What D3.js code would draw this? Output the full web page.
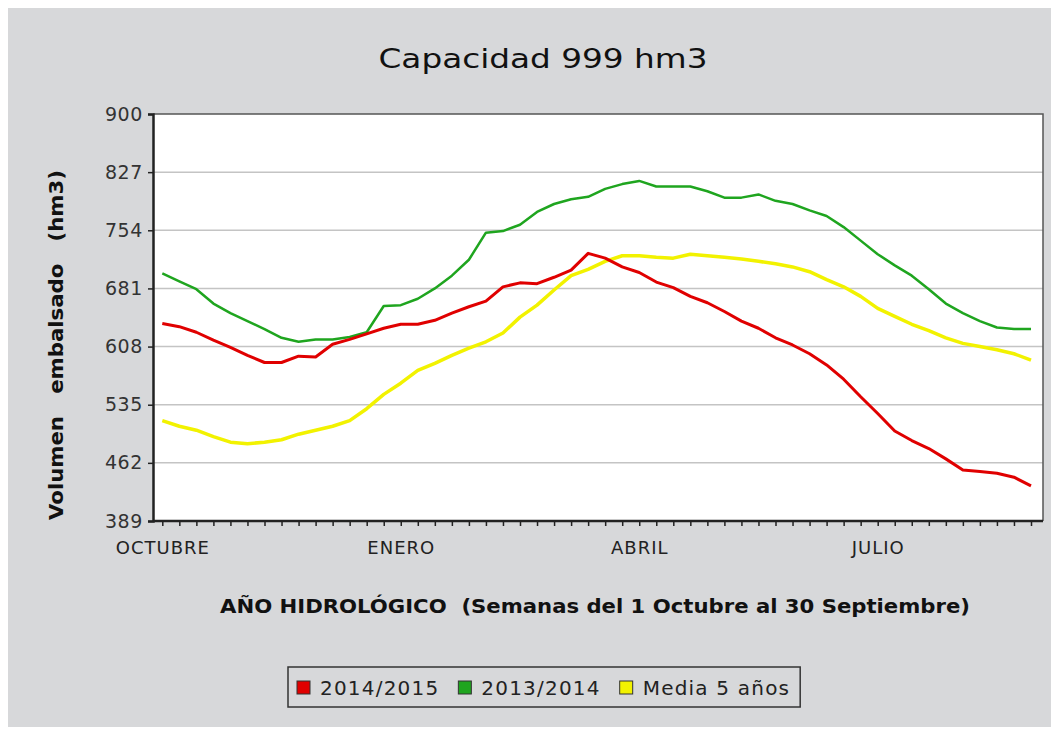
<!DOCTYPE html>
<html>
<head>
<meta charset="utf-8">
<script src="https://cdn.jsdelivr.net/npm/d3@7"></script>
<style>
	body { margin: 0; background: #ffffff; }
	svg { display: block; font-family: "DejaVu Sans", sans-serif; }
</style>
</head>
<body>
<div id="chart"></div>
<script>
// Semanas del año hidrológico (1 oct - 30 sep)
var weeks = d3.range(52);
var monthWeeks = [0, 14, 28, 42];
var monthNames = ["OCTUBRE", "ENERO", "ABRIL", "JULIO"];
var yTicks = [389, 462, 535, 608, 681, 754, 827, 900];

var seriesNames = ["2014/2015", "2013/2014", "Media 5 años"];
var seriesColors = ["#e00000", "#1fa51f", "#f2f200"];

var vol2014 = [637, 633, 626, 616, 607, 597, 588, 588, 596, 595, 611, 617, 624, 631, 636, 636, 641, 650, 658, 665, 683, 688, 687, 695, 704, 725,
	719, 708, 701, 689, 682, 671, 663, 652, 640, 631, 619, 610, 599, 585, 567, 545, 524, 502, 490, 480, 467, 453, 451, 449, 444, 433];
var vol2013 = [700, 690, 680, 662, 650, 640, 630, 619, 614, 617, 617, 620, 626, 659, 660, 668, 681, 697, 717, 751, 753, 761, 777, 787, 793, 796,
	806, 812, 816, 809, 809, 809, 803, 795, 795, 799, 791, 787, 779, 772, 758, 741, 724, 710, 697, 680, 662, 650, 640, 632, 630, 630];
var media5 = [515, 508, 503, 495, 488, 486, 488, 491, 498, 503, 508, 515, 530, 548, 562, 578, 587, 597, 606, 614, 625, 645, 660, 679, 697, 705,
	715, 722, 722, 720, 719, 724, 722, 720, 718, 715, 712, 708, 702, 692, 683, 671, 656, 646, 636, 628, 619, 612, 608, 604, 599, 591];

var W = 1059, H = 735;
var pL = 153, pR = 1043, pT = 114, pB = 521;
var bg = "#d7d8da";

var svg = d3.select("#chart").append("svg")
	.attr("width", W)
	.attr("height", H);

svg.append("rect")
	.attr("x", 8).attr("y", 8)
	.attr("width", W - 16).attr("height", H - 16)
	.attr("fill", bg);

svg.append("text")
	.attr("x", 543).attr("y", 68)
	.attr("text-anchor", "middle")
	.attr("font-size", 27)
	.attr("textLength", 329)
	.attr("lengthAdjust", "spacingAndGlyphs")
	.attr("fill", "#111")
	.text("Capacidad 999 hm3");

svg.append("rect")
	.attr("x", pL).attr("y", pT)
	.attr("width", pR - pL).attr("height", pB - pT)
	.attr("fill", "#ffffff");

var x = d3.scalePoint()
	.domain(weeks)
	.range([162.3, 1031]);

var y = d3.scaleLinear()
	.domain([389, 900])
	.range([pB, pT]);

// grid
svg.append("g")
	.selectAll("line")
	.data(yTicks.slice(1, yTicks.length - 1))
	.enter()
	.append("line")
	.attr("x1", pL).attr("x2", pR)
	.attr("y1", function(d) { return y(d); })
	.attr("y2", function(d) { return y(d); })
	.attr("stroke", "#c4c4c4")
	.attr("stroke-width", 1.5);

// frame top / right
svg.append("path")
	.attr("d", "M" + pL + "," + pT + "H" + pR + "V" + pB)
	.attr("fill", "none")
	.attr("stroke", "#555")
	.attr("stroke-width", 1.5);

var yAxis = svg.append("g")
	.attr("transform", "translate(" + pL + ",0)")
	.call(d3.axisLeft(y).tickValues(yTicks).tickSize(5).tickPadding(5));

yAxis.select(".domain").attr("stroke", "#222").attr("stroke-width", 2.5);
yAxis.selectAll(".tick line").attr("stroke", "#222").attr("stroke-width", 1.5);
yAxis.selectAll(".tick text")
	.attr("font-size", 19)
	.attr("font-family", "DejaVu Sans")
	.attr("letter-spacing", 0.6)
	.attr("fill", "#333");

var xAxis = svg.append("g")
	.attr("transform", "translate(0," + pB + ")")
	.call(d3.axisBottom(x).tickSize(5).tickFormat(function(d) {
		var k = monthWeeks.indexOf(d);
		return k >= 0 ? monthNames[k] : "";
	}).tickPadding(15));

xAxis.select(".domain")
	.attr("d", "M" + pL + ",0H" + pR)
	.attr("stroke", "#222").attr("stroke-width", 2.5);
xAxis.selectAll(".tick line").attr("stroke", "#222").attr("stroke-width", 1.5);
xAxis.selectAll(".tick text")
	.attr("font-size", 18)
	.attr("font-family", "DejaVu Sans")
	.attr("letter-spacing", 1)
	.attr("fill", "#222");

// series
var allSeries = [media5, vol2013, vol2014];
var allColors = [seriesColors[2], seriesColors[1], seriesColors[0]];
var widths = [3.5, 2.5, 3];

var line = d3.line()
	.x(function(d, i) { return x(weeks[i]); })
	.y(function(d) { return y(d); });

svg.append("g")
	.selectAll("path")
	.data(allSeries)
	.enter()
	.append("path")
	.attr("d", line)
	.attr("fill", "none")
	.attr("stroke", function(d, i) { return allColors[i]; })
	.attr("stroke-width", function(d, i) { return widths[i]; })
	.attr("stroke-linejoin", "round");

// axis titles
svg.append("text")
	.attr("x", 595).attr("y", 613)
	.attr("text-anchor", "middle")
	.attr("font-size", 19)
	.attr("font-weight", "bold")
	.attr("textLength", 750)
	.attr("lengthAdjust", "spacingAndGlyphs")
	.attr("fill", "#111")
	.attr("xml:space", "preserve")
	.text("AÑO HIDROLÓGICO  (Semanas del 1 Octubre al 30 Septiembre)");

svg.append("text")
	.attr("transform", "translate(63,345) rotate(-90)")
	.attr("text-anchor", "middle")
	.attr("font-size", 19)
	.attr("font-weight", "bold")
	.attr("textLength", 350)
	.attr("lengthAdjust", "spacingAndGlyphs")
	.attr("fill", "#111")
	.attr("xml:space", "preserve")
	.text("Volumen   embalsado   (hm3)");

// legend
var legend = svg.append("g");
var lx = 297;
var items = legend.selectAll("g")
	.data(seriesNames)
	.enter()
	.append("g");

items.append("rect")
	.attr("width", 13).attr("height", 13)
	.attr("y", 681)
	.attr("fill", function(d, i) { return seriesColors[i]; })
	.attr("stroke", "#333")
	.attr("stroke-width", 1);

items.append("text")
	.attr("y", 695)
	.attr("font-size", 20)
	.attr("letter-spacing", 1.2)
	.attr("fill", "#222")
	.text(function(d) { return d; });

items.each(function() {
	var g = d3.select(this);
	g.select("rect").attr("x", lx);
	g.select("text").attr("x", lx + 23);
	lx += 23 + g.select("text").node().getComputedTextLength() + 19;
});

legend.insert("rect", ":first-child")
	.attr("x", 288).attr("y", 667)
	.attr("width", lx - 19 + 10 - 288).attr("height", 40)
	.attr("fill", bg)
	.attr("stroke", "#333")
	.attr("stroke-width", 1.5);
</script>
</body>
</html>
